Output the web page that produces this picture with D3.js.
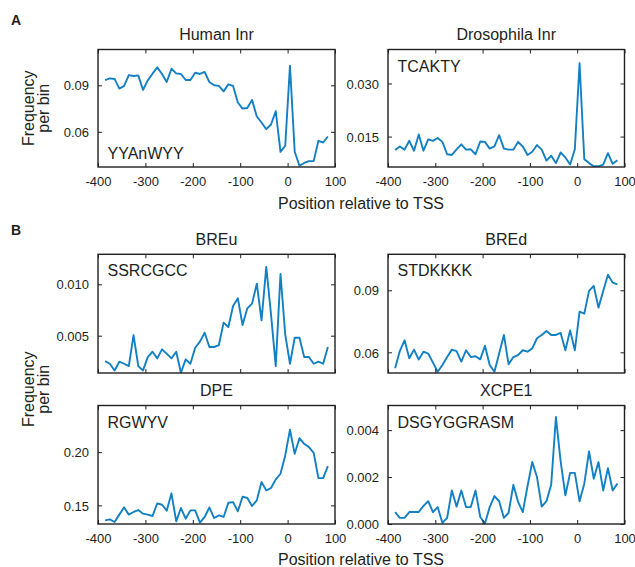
<!DOCTYPE html>
<html><head><meta charset="utf-8">
<script src="https://cdn.jsdelivr.net/npm/d3@7"></script>
<style>body{margin:0;background:#fff}svg{display:block}</style>
</head><body><svg id="c" width="635" height="567"></svg>
<script>
// ---------- data ----------
const positions = [-385,-375,-365,-355,-345,-335,-325,-315,-305,-295,-285,-275,-265,-255,-245,-235,-225,-215,-205,-195,-185,-175,-165,-155,-145,-135,-125,-115,-105,-95,-85,-75,-65,-55,-45,-35,-25,-15,-5,5,15,25,35,45,55,65,75,85];
const xTicks = [-400,-300,-200,-100,0,100];
const xTickLabels = ["-400","-300","-200","-100","0","100"];

const humanInr = [0.0934,0.0945,0.0941,0.0879,0.0896,0.0966,0.0960,0.0964,0.0870,0.0932,0.0975,0.1016,0.0973,0.0921,0.1007,0.0977,0.0973,0.0934,0.0934,0.0981,0.0973,0.0986,0.0921,0.0900,0.0896,0.0861,0.0906,0.0896,0.0789,0.0750,0.0754,0.0806,0.0699,0.0660,0.0617,0.0647,0.0733,0.0471,0.0510,0.1026,0.0471,0.0381,0.0399,0.0411,0.0411,0.0542,0.0531,0.0570];
const drosInr = [0.0112,0.0122,0.0113,0.0138,0.0110,0.0156,0.0110,0.0142,0.0138,0.0146,0.0135,0.0100,0.0098,0.0114,0.0128,0.0113,0.0114,0.0100,0.0136,0.0135,0.0116,0.0122,0.0154,0.0116,0.0113,0.0113,0.0135,0.0122,0.0098,0.0107,0.0126,0.0113,0.0082,0.0096,0.0075,0.0105,0.0091,0.0071,0.0114,0.0357,0.0086,0.0075,0.0066,0.0066,0.0071,0.0103,0.0073,0.0083];
const breu = [0.00253,0.00227,0.00162,0.00247,0.00227,0.00204,0.00506,0.00204,0.00162,0.00292,0.00344,0.00279,0.00367,0.00325,0.00279,0.00344,0.00140,0.00270,0.00227,0.00383,0.00442,0.00529,0.00390,0.00390,0.00409,0.00627,0.00584,0.00789,0.00864,0.00604,0.00766,0.00812,0.01006,0.00649,0.01170,0.00708,0.00204,0.01100,0.00513,0.00227,0.00480,0.00480,0.00292,0.00292,0.00227,0.00247,0.00227,0.00390];
const bred = [0.0523,0.0606,0.0658,0.0571,0.0613,0.0565,0.0603,0.0594,0.0550,0.0506,0.0539,0.0577,0.0613,0.0606,0.0555,0.0610,0.0577,0.0581,0.0566,0.0632,0.0539,0.0506,0.0594,0.0684,0.0542,0.0577,0.0587,0.0610,0.0603,0.0619,0.0668,0.0684,0.0703,0.0684,0.0684,0.0694,0.0610,0.0706,0.0610,0.0797,0.0787,0.0897,0.0921,0.0816,0.0897,0.0975,0.0937,0.0929];
const dpe = [0.1359,0.1369,0.1344,0.1413,0.1481,0.1413,0.1438,0.1456,0.1422,0.1413,0.1400,0.1519,0.1506,0.1450,0.1613,0.1350,0.1475,0.1375,0.1453,0.1453,0.1338,0.1391,0.1481,0.1381,0.1406,0.1391,0.1525,0.1531,0.1444,0.1581,0.1569,0.1494,0.1547,0.1719,0.1641,0.1663,0.1744,0.1797,0.1969,0.2210,0.1984,0.2131,0.2078,0.2047,0.1994,0.1756,0.1756,0.1869];
const xcpe1 = [0.00051,0.00026,0.00026,0.00051,0.00051,0.00051,0.00077,0.00097,0.00051,0.00072,0.00005,0.00026,0.00143,0.00074,0.00143,0.00072,0.00072,0.00143,0.00030,0.00002,0.00072,0.00119,0.00097,0.00026,0.00048,0.00167,0.00094,0.00051,0.00162,0.00264,0.00200,0.00074,0.00097,0.00167,0.00456,0.00267,0.00122,0.00218,0.00218,0.00097,0.00172,0.00309,0.00193,0.00264,0.00143,0.00238,0.00143,0.00172];

const titles = ["Human Inr","Drosophila Inr","BREu","BREd","DPE","XCPE1"];
const motifs = ["YYAnWYY","TCAKTY","SSRCGCC","STDKKKK","RGWYV","DSGYGGRASM"];
const series = [humanInr, drosInr, breu, bred, dpe, xcpe1];
const yDomains = [[0.0373,0.1131],[0.0064,0.0396],[0.00137,0.01292],[0.0500,0.1074],[0.1325,0.2438],[0,0.00505]];
const yTicks = [[0.06,0.09],[0.015,0.030],[0.005,0.010],[0.06,0.09],[0.15,0.20],[0,0.002,0.004]];
const yTickLabels = [["0.06","0.09"],["0.015","0.030"],["0.005","0.010"],["0.06","0.09"],["0.15","0.20"],["0.000","0.002","0.004"]];

// ---------- layout ----------
const FONT = "'Liberation Sans', Arial, Helvetica, sans-serif";
const INK = "#231f20";
const LINE = "#1380c3";
const cols = [[98,335],[388,624.5]];
const rows = [[49.5,167],[254.3,373],[405.5,524]];
const layout = [
  {c:0,r:0,motif:"bl",xl:true},{c:1,r:0,motif:"tl",xl:true},
  {c:0,r:1,motif:"tl",xl:false},{c:1,r:1,motif:"tl",xl:false},
  {c:0,r:2,motif:"tl",xl:true},{c:1,r:2,motif:"tl",xl:true}
];

const svg = d3.select("#c");
const defs = svg.append("defs");

series.forEach((data,i)=>{
  const L = layout[i];
  const [x0,x1] = cols[L.c], [y0,y1] = rows[L.r];
  const x = d3.scaleLinear().domain([-400,100]).range([x0,x1]);
  const y = d3.scaleLinear().domain(yDomains[i]).range([y1,y0]);
  const g = svg.append("g");

  defs.append("clipPath").attr("id","clip"+i).append("rect")
    .attr("x",x0).attr("y",y0).attr("width",x1-x0).attr("height",y1-y0);

  // line
  g.append("path").datum(data)
    .attr("clip-path","url(#clip"+i+")")
    .attr("fill","none").attr("stroke",LINE).attr("stroke-width",1.9)
    .attr("stroke-linejoin","round")
    .attr("d", d3.line().x((d,j)=>x(positions[j])).y(d=>y(d)));

  // axes with inward ticks
  const fmtX = d => xTickLabels[xTicks.indexOf(d)];
  const bot = g.append("g").attr("transform",`translate(0,${y1})`)
    .call(d3.axisBottom(x).tickValues(xTicks).tickSize(-4).tickFormat(L.xl?fmtX:()=>""));
  const top = g.append("g").attr("transform",`translate(0,${y0})`)
    .call(d3.axisTop(x).tickValues(xTicks).tickSize(-4).tickFormat(()=>""));
  const fmtY = d => yTickLabels[i][yTicks[i].indexOf(d)];
  const left = g.append("g").attr("transform",`translate(${x0},0)`)
    .call(d3.axisLeft(y).tickValues(yTicks[i]).tickSize(-4).tickPadding(9).tickFormat(fmtY));
  const right = g.append("g").attr("transform",`translate(${x1},0)`)
    .call(d3.axisRight(y).tickValues(yTicks[i]).tickSize(-4).tickFormat(()=>""));
  [bot,top,left,right].forEach(a=>{
    a.select(".domain").remove();
    a.selectAll("line").attr("stroke",INK).attr("stroke-width",1);
    a.selectAll("text").attr("fill",INK).style("font-family",FONT).style("font-size","13px");
  });
  bot.selectAll("text").attr("y",19).attr("dy",null);
  left.selectAll("text").attr("dy","0.36em");

  // frame
  g.append("rect").attr("x",x0).attr("y",y0).attr("width",x1-x0).attr("height",y1-y0)
    .attr("fill","none").attr("stroke",INK).attr("stroke-width",1.4);

  // title
  g.append("text").attr("x",(x0+x1)/2).attr("y",y0-9.5)
    .attr("text-anchor","middle").attr("fill",INK)
    .style("font-family",FONT).style("font-size","16px").text(titles[i]);

  // motif
  g.append("text").attr("x",x0+9.5).attr("y",L.motif==="bl"? y1-8 : y0+22)
    .attr("fill",INK).style("font-family",FONT).style("font-size","16px").text(motifs[i]);
});

// panel letters
[["A",25],["B",235]].forEach(([t,yy])=>{
  svg.append("text").attr("x",11).attr("y",yy).attr("fill",INK)
    .style("font-family",FONT).style("font-size","14px").style("font-weight","bold").text(t);
});

// x-axis titles
[208.5,565].forEach(yy=>{
  svg.append("text").attr("x",361).attr("y",yy).attr("text-anchor","middle").attr("fill",INK)
    .style("font-family",FONT).style("font-size","16px").text("Position relative to TSS");
});

// y-axis titles
[108.25,389.25].forEach(cy=>{
  const t = svg.append("text").attr("transform",`translate(0,${cy}) rotate(-90)`)
    .attr("text-anchor","middle").attr("fill",INK)
    .style("font-family",FONT).style("font-size","16px");
  t.append("tspan").attr("x",0).attr("y",33.5).text("Frequency");
  t.append("tspan").attr("x",0).attr("y",48.5).text("per bin");
});
</script>
</body></html>
